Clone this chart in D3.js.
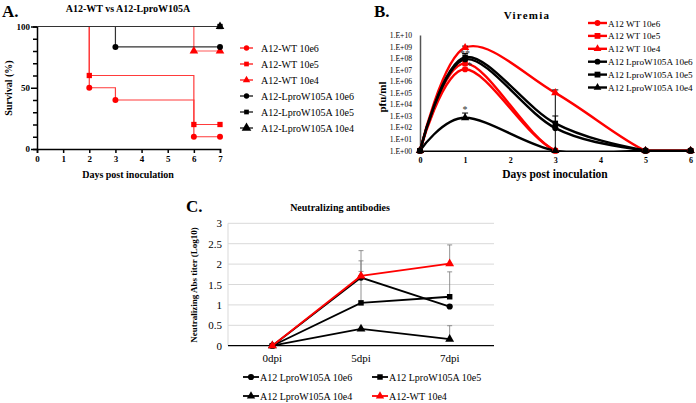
<!DOCTYPE html>
<html><head><meta charset="utf-8">
<script src="https://cdn.jsdelivr.net/npm/d3@7"></script>
<style>
body{margin:0;background:#fff;}
svg text{font-family:"Liberation Serif","Times New Roman",serif;}
</style></head>
<body><svg id="c" width="696" height="403"></svg>
<script>
// ---------- Panel A: survival ----------
const survDays = [0,1,2,3,4,5,6,7];
const survNames = ["A12-WT 10e6","A12-WT 10e5","A12-WT 10e4","A12-LproW105A 10e6","A12-LproW105A 10e5","A12-LproW105A 10e4"];
const survWT6 = [[0,100],[2,50],[3,40],[6,10],[7,10]];
const survWT5 = [[0,100],[2,60],[6,20],[7,20]];
const survWT4 = [[0,100],[6,80],[7,80]];
const survLp6 = [[0,100],[3,83.3],[7,83.3]];
const survLp5 = [[0,100],[7,100]];
const survLp4 = [[0,100],[7,100]];

// ---------- Panel B: viremia (pfu/ml) ----------
const virDays = [0,1,3,5,6];
const virNames = ["A12 WT 10e6","A12 WT 10e5","A12 WT 10e4","A12 LproW105A 10e6","A12 LproW105A 10e5","A12 LproW105A 10e4"];
const virWT6 = [1, 1.1e7, 1, 1, 1];
const virWT5 = [1, 3.5e7, 1, 1, 1];
const virWT4 = [1, 8e8, 1e5, 1, 1];
const virLp6 = [1, 8e7, 90, 1, 1];
const virLp5 = [1, 1.2e8, 230, 1, 1];
const virLp4 = [1, 700, 1, 1, 1];
// error bars [day, low, high]
const virErr = [[1,1e8,2.5e8],[1,6e8,1.1e9],[1,700,1800],[3,1,1.8e5],[3,230,1000]];
// significance stars [day, value, label]
const virStars = [[1,3.2e8,"**"],[1.1,3.2e7,"*"],[1,4500,"*"]];

// ---------- Panel C: neutralizing antibodies (log10) ----------
const nabDays = ["0dpi","5dpi","7dpi"];
const nabNames = ["A12 LproW105A 10e6","A12 LproW105A 10e5","A12 LproW105A 10e4","A12-WT 10e4"];
const nabLp6 = [0, 1.67, 0.96];
const nabLp5 = [0, 1.05, 1.2];
const nabLp4 = [0, 0.41, 0.16];
const nabWT4 = [0, 1.71, 2.01];
const nabErrLp6 = [0, 2.08, 0.96];
const nabErrLp5 = [0, 1.82, 1.81];
const nabErrLp4 = [0, 0.41, 0.49];
const nabErrWT4 = [0, 2.33, 2.47];
const nabTicks = [0,0.5,1,1.5,2,2.5,3];

const svg = d3.select("#c");
const RED = "#ff0000", BLACK = "#000";
function sym(type, size){ return d3.symbol().type(type).size(size)(); }
const SYM = {c:d3.symbolCircle, s:d3.symbolSquare, t:d3.symbolTriangle};

// ================= Panel A =================
{
  const g = svg.append("g");
  const x = d3.scaleLinear().domain([0,7]).range([37,220]);
  const y = d3.scaleLinear().domain([0,100]).range([149,26.5]);
  g.append("text").attr("x",2).attr("y",17).attr("font-size",17).attr("font-weight","bold").text("A.");
  g.append("text").attr("x",128).attr("y",12).attr("text-anchor","middle").attr("font-size",10).attr("font-weight","bold").text("A12-WT vs A12-LproW105A");
  const ax = g.append("g").attr("transform",`translate(0,${y(0)})`).call(d3.axisBottom(x).tickValues(survDays).tickSize(4).tickPadding(3).tickFormat(d3.format("d")));
  const ay = g.append("g").attr("transform",`translate(${x(0)},0)`).call(d3.axisLeft(y).tickValues(d3.range(0,101,10)).tickSize(4).tickPadding(3).tickFormat(d=>d%50===0?d:""));
  [ax,ay].forEach(a=>{a.selectAll("path,line").attr("stroke","#000").attr("stroke-width",1.5);a.selectAll("text").attr("font-size",9).attr("font-weight","bold").attr("fill","#000");});
  ay.selectAll(".tick").filter(d=>d%50===0).select("line").attr("x2",-6);
  g.append("text").attr("x",128).attr("y",178).attr("text-anchor","middle").attr("font-size",10).attr("font-weight","bold").text("Days post inoculation");
  g.append("text").attr("transform","translate(12,88) rotate(-90)").attr("text-anchor","middle").attr("font-size",10).attr("font-weight","bold").text("Survival (%)");
  const series = [
    {d:survWT6,col:"#ff3b3b",m:"c",mc:RED},{d:survWT5,col:"#ff3b3b",m:"s",mc:RED},{d:survWT4,col:"#ff5a5a",m:"t",mc:RED},
    {d:survLp6,col:"#333",m:"c",mc:BLACK},{d:survLp5,col:"#333",m:"s",mc:BLACK},{d:survLp4,col:"#333",m:"t",mc:BLACK}];
  const line = d3.line().x(d=>x(d[0])).y(d=>y(d[1])).curve(d3.curveStepAfter);
  series.forEach(s=>{
    g.append("path").attr("d",line(s.d)).attr("fill","none").attr("stroke",s.col).attr("stroke-width",1.2);
  });
  series.forEach(s=>{
    g.selectAll(null).data(s.d.slice(1)).join("path").attr("d",sym(SYM[s.m],s.m==="t"?32:28))
      .attr("transform",d=>`translate(${x(d[0])},${y(d[1])})`).attr("fill",s.mc);
  });
  const lg = g.append("g");
  survNames.forEach((n,i)=>{
    const s = series[i], yy = 48+i*16;
    lg.append("line").attr("x1",240).attr("x2",253).attr("y1",yy).attr("y2",yy).attr("stroke",s.mc).attr("stroke-width",1.2);
    lg.append("path").attr("d",sym(SYM[s.m],s.m==="t"?(i===5?40:24):22)).attr("transform",`translate(246.5,${yy})`).attr("fill",s.mc);
    lg.append("text").attr("x",261).attr("y",yy+3.5).attr("font-size",10).text(n);
  });
}

// ================= Panel B =================
{
  const g = svg.append("g");
  const x = d3.scaleLinear().domain([0,6]).range([420,690.6]);
  const y = d3.scaleLog().domain([1,1e10]).range([150.7,35]);
  g.append("text").attr("x",374).attr("y",17).attr("font-size",17).attr("font-weight","bold").text("B.");
  g.append("text").attr("x",527).attr("y",19).attr("text-anchor","middle").attr("font-size",11).attr("font-weight","bold").attr("letter-spacing",1.2).text("Viremia");
  g.append("defs").append("clipPath").attr("id","clipB").append("rect").attr("x",419).attr("y",20).attr("width",276).attr("height",131);
  const ay = g.append("g").attr("transform",`translate(${x(0)},0)`).call(d3.axisLeft(y).tickValues(d3.range(0,11).map(e=>Math.pow(10,e))).tickSize(0).tickPadding(8)
     .tickFormat(d=>"1.E+"+String(Math.round(Math.log10(d))).padStart(2,"0")));
  ay.select("path").attr("stroke","#555").attr("stroke-width",1.5);
  ay.selectAll("text").attr("font-size",7.6).attr("fill","#000");
  const ax = g.append("g").attr("transform",`translate(0,${y(1)})`).call(d3.axisBottom(x).ticks(6).tickSize(0).tickPadding(7).tickFormat(d3.format("d")));
  ax.select("path").attr("stroke","#000").attr("stroke-width",1.5);
  ax.selectAll("text").attr("font-size",8).attr("font-weight","bold").attr("fill","#000");
  g.append("text").attr("x",555).attr("y",178).attr("text-anchor","middle").attr("font-size",11.5).attr("font-weight","bold").text("Days post inoculation");
  g.append("text").attr("transform","translate(386,97) rotate(-90)").attr("text-anchor","middle").attr("font-size",11).attr("font-weight","bold").text("pfu/ml");
  const series = [
    {v:virWT6,c:RED,m:"c"},{v:virWT5,c:RED,m:"s"},{v:virWT4,c:RED,m:"t"},
    {v:virLp6,c:BLACK,m:"c"},{v:virLp5,c:BLACK,m:"s"},{v:virLp4,c:BLACK,m:"t"}];
  const line = d3.line().x((d,i)=>x(virDays[i])).y(d=>y(d)).curve(d3.curveCardinal.tension(0));
  const pg = g.append("g").attr("clip-path","url(#clipB)");
  virErr.forEach(e=>{
    g.append("line").attr("x1",x(e[0])).attr("x2",x(e[0])).attr("y1",y(e[1])).attr("y2",y(e[2])).attr("stroke","#000").attr("stroke-width",1);
    g.append("line").attr("x1",x(e[0])-3).attr("x2",x(e[0])+3).attr("y1",y(e[2])).attr("y2",y(e[2])).attr("stroke","#000").attr("stroke-width",1);
  });
  series.forEach(s=>{
    pg.append("path").attr("d",line(s.v)).attr("fill","none").attr("stroke",s.c).attr("stroke-width",2.4);
  });
  series.forEach(s=>{
    g.selectAll(null).data(s.v).join("path").attr("d",sym(SYM[s.m],30))
      .attr("transform",(d,i)=>`translate(${x(virDays[i])},${y(d)})`).attr("fill",s.c);
  });
  virStars.forEach(st=>{
    g.append("text").attr("x",x(st[0])).attr("y",y(st[1])+5).attr("text-anchor","middle").attr("font-size",10).attr("fill","#333").text(st[2]);
  });
  const lg = g.append("g");
  virNames.forEach((n,i)=>{
    const s = series[i], yy = 23+i*12.9;
    lg.append("line").attr("x1",588).attr("x2",607).attr("y1",yy).attr("y2",yy).attr("stroke",s.c).attr("stroke-width",2.4);
    lg.append("path").attr("d",sym(SYM[s.m],s.m==="s"?34:26)).attr("transform",`translate(597.5,${yy})`).attr("fill",s.c);
    lg.append("text").attr("x",608).attr("y",yy+3.5).attr("font-size",9.2).text(n);
  });
}

// ================= Panel C =================
{
  const g = svg.append("g");
  const x = d3.scalePoint().domain(nabDays).range([228,494]).padding(0.5);
  const y = d3.scaleLinear().domain([0,3]).range([345.7,223.3]);
  g.append("text").attr("x",186).attr("y",212).attr("font-size",17).attr("font-weight","bold").text("C.");
  g.append("text").attr("x",340).attr("y",211).attr("text-anchor","middle").attr("font-size",10).attr("font-weight","bold").text("Neutralizing antibodies");
  g.selectAll(null).data(nabTicks.slice(1)).join("line").attr("x1",228).attr("x2",494).attr("y1",d=>y(d)).attr("y2",d=>y(d)).attr("stroke","#d9d9d9").attr("stroke-width",1);
  g.append("line").attr("x1",228).attr("x2",228).attr("y1",y(3)).attr("y2",y(0)).attr("stroke","#d9d9d9");
  g.append("line").attr("x1",228).attr("x2",494).attr("y1",y(0)).attr("y2",y(0)).attr("stroke","#000").attr("stroke-width",1.3);
  g.selectAll(null).data(nabTicks).join("text").attr("x",222).attr("y",d=>y(d)+4).attr("text-anchor","end").attr("font-size",11).text(d=>d);
  g.selectAll(null).data(nabDays).join("text").attr("x",d=>x(d)).attr("y",362).attr("text-anchor","middle").attr("font-size",11).text(d=>d);
  g.append("text").attr("transform","translate(197,285) rotate(-90)").attr("text-anchor","middle").attr("font-size",9).attr("font-weight","bold").text("Neutralizing Abs titer (Log10)");
  const series = [
    {v:nabLp6,e:nabErrLp6,c:BLACK,m:"c"},{v:nabLp5,e:nabErrLp5,c:BLACK,m:"s"},
    {v:nabLp4,e:nabErrLp4,c:BLACK,m:"t"},{v:nabWT4,e:nabErrWT4,c:RED,m:"t"}];
  series.forEach(s=>{
    s.v.forEach((v,i)=>{
      if(s.e[i]>v){
        const xx = x(nabDays[i]);
        g.append("line").attr("x1",xx).attr("x2",xx).attr("y1",y(v)).attr("y2",y(s.e[i])).attr("stroke","#777").attr("stroke-width",0.8);
        g.append("line").attr("x1",xx-2.5).attr("x2",xx+2.5).attr("y1",y(s.e[i])).attr("y2",y(s.e[i])).attr("stroke","#777").attr("stroke-width",0.8);
      }
    });
  });
  const line = d3.line().x((d,i)=>x(nabDays[i])).y(d=>y(d));
  series.forEach(s=>{
    g.append("path").attr("d",line(s.v)).attr("fill","none").attr("stroke",s.c).attr("stroke-width",1.8);
    g.selectAll(null).data(s.v).join("path").attr("d",sym(SYM[s.m],s.m==="t"?34:30))
      .attr("transform",(d,i)=>`translate(${x(nabDays[i])},${y(d)})`).attr("fill",s.c);
  });
  const pos = [[243,377],[372,377],[243,396],[372,396]];
  nabNames.forEach((n,i)=>{
    const s = series[i], p = pos[i];
    g.append("line").attr("x1",p[0]).attr("x2",p[0]+16).attr("y1",p[1]).attr("y2",p[1]).attr("stroke",s.c).attr("stroke-width",1.8);
    g.append("path").attr("d",sym(SYM[s.m],30)).attr("transform",`translate(${p[0]+8},${p[1]})`).attr("fill",s.c);
    g.append("text").attr("x",p[0]+17).attr("y",p[1]+3.5).attr("font-size",10).text(n);
  });
}
</script></body></html>
